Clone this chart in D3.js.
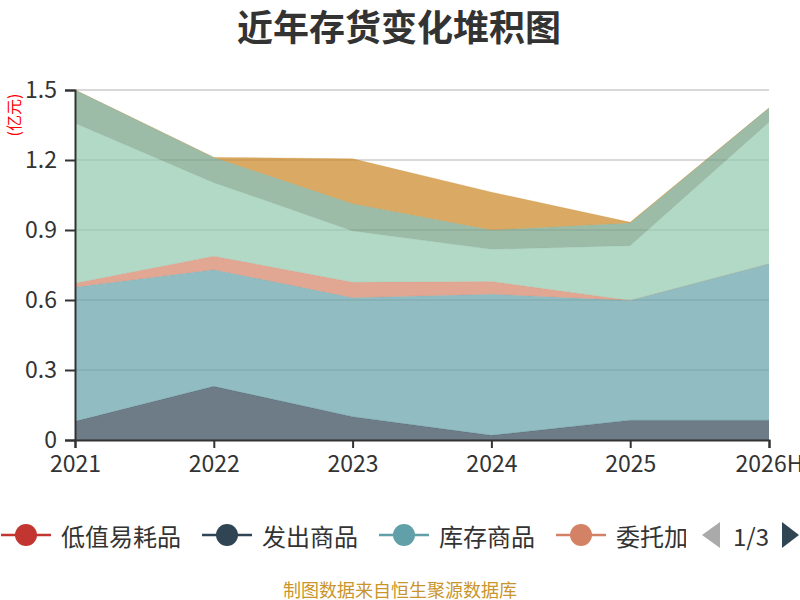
<!DOCTYPE html>
<html><head><meta charset="utf-8">
<script src="https://cdn.jsdelivr.net/npm/d3@7"></script>
<style>
html,body{margin:0;padding:0;background:#fff;}
svg text{font-family:"Noto Sans CJK SC","Noto Sans",sans-serif;}
</style></head>
<body>
<svg id="chart" width="800" height="600"></svg>
<script>
const years = ['2021','2022','2023','2024','2025','2026H'];
const seriesNames = ['低值易耗品','发出商品','库存商品','委托加工物资','原材料','在产品','周转材料'];
const colors = ['#c23531','#2f4554','#61a0a8','#d48265','#91c7ae','#749f83','#ca8622'];
const lowValue   = [0, 0, 0, 0, 0, 0];
const shipped    = [0.08, 0.23, 0.10, 0.02, 0.085, 0.085];
const stock      = [0.575, 0.50, 0.51, 0.605, 0.513, 0.67];
const consigned  = [0.017, 0.058, 0.066, 0.054, 0, 0];
const rawMat     = [0.685, 0.315, 0.22, 0.138, 0.235, 0.607];
const wip        = [0.143, 0.108, 0.117, 0.083, 0.097, 0.061];
const turnover   = [0, 0, 0.192, 0.162, 0.003, 0];
const yTicks = [0, 0.3, 0.6, 0.9, 1.2, 1.5];

const seriesValues = [lowValue, shipped, stock, consigned, rawMat, wip, turnover];
const table = years.map((y, i) => {
  const row = {year: y};
  seriesNames.forEach((n, k) => row[n] = seriesValues[k][i]);
  return row;
});

const svg = d3.select('#chart');
const x = d3.scalePoint().domain(years).range([75, 769]);
const y = d3.scaleLinear().domain([0, 1.5]).range([440, 90]);

// title
svg.append('text').attr('x', 399).attr('y', 25).attr('text-anchor', 'middle')
  .attr('dominant-baseline', 'central').attr('font-size', 36).attr('font-weight', 'bold')
  .attr('fill', '#333').text('近年存货变化堆积图');

// grid
svg.append('g').selectAll('line').data(yTicks.filter(t => t > 0)).join('line')
  .attr('x1', 75).attr('x2', 769).attr('y1', d => y(d)).attr('y2', d => y(d))
  .attr('stroke', '#ccc').attr('stroke-width', 1.5);

// stacked areas
const stack = d3.stack().keys(seriesNames);
const layers = stack(table);
const area = d3.area().x(d => x(d.data.year)).y0(d => y(d[0])).y1(d => y(d[1]));
const line = d3.line().x(d => x(d.data.year)).y(d => y(d[1]));
const g = svg.append('g');
layers.forEach((L, k) => {
  g.append('path').datum(L).attr('d', area).attr('fill', colors[k]).attr('fill-opacity', 0.7);
  g.append('path').datum(L).attr('d', line).attr('fill', 'none')
    .attr('stroke', colors[k]).attr('stroke-opacity', 0.35).attr('stroke-width', 0.8);
});

// axes
const yAxis = d3.axisLeft(y).tickValues(yTicks).tickSize(10).tickPadding(8)
  .tickFormat(d => d === 0 ? '0' : d3.format('.1f')(d));
const ya = svg.append('g').attr('transform', 'translate(75,0)').call(yAxis);
ya.select('.domain').attr('stroke', '#333').attr('stroke-width', 2);
ya.selectAll('.tick line').attr('stroke', '#333').attr('stroke-width', 2);
ya.selectAll('.tick text').attr('font-size', 23).attr('fill', '#333')
  .attr('font-family', '"Noto Sans CJK SC","Noto Sans",sans-serif');

const xAxis = d3.axisBottom(x).tickSize(8).tickPadding(8);
const xa = svg.append('g').attr('transform', 'translate(0,440)').call(xAxis);
xa.select('.domain').attr('stroke', '#333').attr('stroke-width', 2);
xa.selectAll('.tick line').attr('stroke', '#333').attr('stroke-width', 2);
xa.selectAll('.tick text').attr('font-size', 23).attr('fill', '#333')
  .attr('font-family', '"Noto Sans CJK SC","Noto Sans",sans-serif');

// y axis name
svg.append('text').attr('transform', 'translate(13,115) rotate(-90)')
  .attr('text-anchor', 'middle').attr('dominant-baseline', 'central')
  .attr('font-size', 16).attr('fill', '#ff0000').text('(亿元)');

// legend (scrollable, page 1 of 3)
svg.append('clipPath').attr('id', 'legclip').append('rect')
  .attr('x', 0).attr('y', 510).attr('width', 686).attr('height', 50);
const leg = svg.append('g').attr('clip-path', 'url(#legclip)');
let lx = 1;
const ly = 535;
const legEnd = 686;
seriesNames.forEach((n, k) => {
  if (lx >= legEnd) return;
  const it = leg.append('g');
  it.append('line').attr('x1', lx).attr('x2', lx + 50).attr('y1', ly).attr('y2', ly)
    .attr('stroke', colors[k]).attr('stroke-width', 2.5);
  it.append('circle').attr('cx', lx + 25).attr('cy', ly).attr('r', 11).attr('fill', colors[k]);
  const t = it.append('text').attr('x', lx + 60).attr('y', ly).attr('dominant-baseline', 'central')
    .attr('font-size', 24).attr('fill', '#333').text(n);
  let w = t.node().getComputedTextLength();
  if (lx + 60 + w > legEnd) {
    // truncate to what is visible in the legend window
    let s = n;
    while (s.length > 1 && lx + 60 + t.node().getComputedTextLength() > legEnd + 6) {
      s = s.slice(0, -1); t.text(s);
    }
  }
  lx += 60 + w + 21;
});
svg.append('path').attr('d', 'M720,522 L720,548 L702,535 Z').attr('fill', '#aaa');
svg.append('text').attr('x', 751).attr('y', ly).attr('text-anchor', 'middle')
  .attr('dominant-baseline', 'central').attr('font-size', 24).attr('fill', '#333').text('1/3');
svg.append('path').attr('d', 'M782,522 L782,548 L799,535 Z').attr('fill', '#2f4554');

// footer
svg.append('text').attr('x', 400).attr('y', 589).attr('text-anchor', 'middle')
  .attr('dominant-baseline', 'central').attr('font-size', 18).attr('fill', '#c9952c')
  .text('制图数据来自恒生聚源数据库');
</script>
</body></html>
